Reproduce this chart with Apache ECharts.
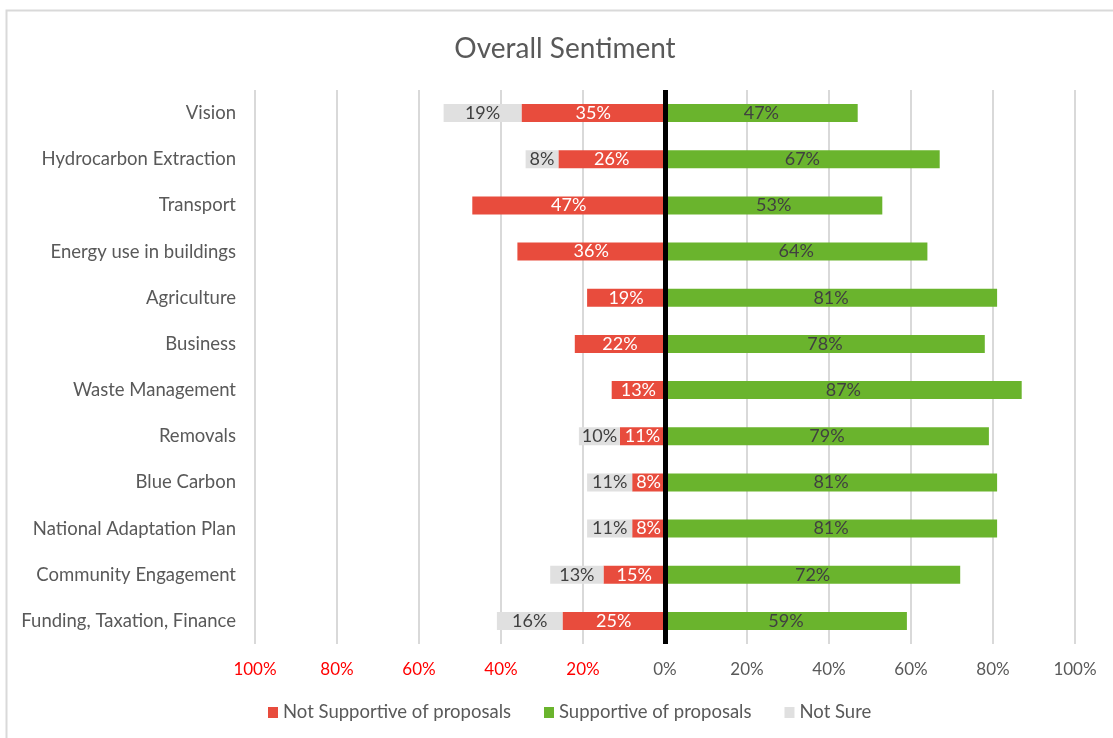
<!DOCTYPE html>
<html>
<head>
<meta charset="utf-8">
<script src="https://cdn.jsdelivr.net/npm/echarts@6/dist/echarts.min.js"></script>
<style>
  html, body { margin: 0; padding: 0; background: #fff; }
  #chart { width: 1113px; height: 738px; }
</style>
</head>
<body>
<div id="chart"></div>
<script>
// Survey topics, top to bottom
const categories = [
  'Vision', 'Hydrocarbon Extraction', 'Transport', 'Energy use in buildings',
  'Agriculture', 'Business', 'Waste Management', 'Removals', 'Blue Carbon',
  'National Adaptation Plan', 'Community Engagement', 'Funding, Taxation, Finance'
];
// Share of responses (%) per topic
const notSupportive = [35, 26, 47, 36, 19, 22, 13, 11, 8, 8, 15, 25];
const supportive    = [47, 67, 53, 64, 81, 78, 87, 79, 81, 81, 72, 59];
const notSure       = [19, 8, null, null, null, null, null, 10, 11, 11, 13, 16];
// Axis tick values (%)
const tickValues = [-100, -80, -60, -40, -20, 0, 20, 40, 60, 80, 100];

const FONT = 'Lato, "Open Sans", sans-serif';
const RED = '#E84C3D', GREEN = '#6AB42D', GREY = '#E0E0E0';

const pctLabel = (color) => ({
  show: true,
  position: 'inside',
  color: color,
  fontFamily: FONT,
  fontSize: 18,
  formatter: (p) => p.value == null ? '' : Math.abs(p.value) + '%'
});

const chart = echarts.init(document.getElementById('chart'), null, { renderer: 'canvas' });
chart.setOption({
  animation: false,
  backgroundColor: '#fff',
  graphic: [{
    type: 'rect',
    shape: { x: 6.5, y: 10.5, width: 1200, height: 800 },
    style: { fill: 'none', stroke: '#d9d9d9', lineWidth: 2 },
    silent: true, z: -1
  }],
  title: {
    text: 'Overall Sentiment',
    left: 560, top: 30, textAlign: 'center',
    textStyle: { color: '#595959', fontFamily: FONT, fontSize: 28, fontWeight: 'normal' }
  },
  legend: {
    bottom: 11,
    left: 263,
    itemWidth: 10, itemHeight: 11, itemGap: 33,
    icon: 'rect',
    textStyle: { color: '#595959', fontFamily: FONT, fontSize: 18.5 },
    data: ['Not Supportive of proposals', 'Supportive of proposals', 'Not Sure']
  },
  grid: { left: 255, right: 38, top: 90, bottom: 94, containLabel: false },
  xAxis: {
    type: 'value',
    min: -100, max: 100, interval: 20,
    axisLine: { show: false },
    axisTick: { show: false },
    splitLine: { show: true, lineStyle: { color: '#d9d9d9', width: 2 } },
    axisLabel: {
      margin: 17,
      fontFamily: FONT, fontSize: 17,
      formatter: (v) => Math.abs(v) + '%',
      color: (v) => (v < 0 ? '#ff0000' : '#595959')
    }
  },
  yAxis: {
    type: 'category',
    data: categories,
    inverse: true,
    axisLine: { show: false },
    axisTick: { show: false },
    splitLine: { show: false },
    axisLabel: { margin: 19, color: '#595959', fontFamily: FONT, fontSize: 18.5 }
  },
  series: [
    {
      name: 'Not Supportive of proposals',
      type: 'bar', stack: 'total', barWidth: 18,
      itemStyle: { color: RED },
      label: pctLabel('#ffffff'),
      data: notSupportive.map(v => -v)
    },
    {
      name: 'Supportive of proposals',
      type: 'bar', stack: 'total', barWidth: 18,
      itemStyle: { color: GREEN },
      label: pctLabel('#404040'),
      data: supportive,
      markLine: {
        silent: true, symbol: 'none',
        label: { show: false },
        lineStyle: { color: '#000', width: 5, type: 'solid' },
        data: [{ xAxis: 0 }],
        z: 10
      }
    },
    {
      name: 'Not Sure',
      type: 'bar', stack: 'total', barWidth: 18,
      itemStyle: { color: GREY },
      label: pctLabel('#404040'),
      data: notSure.map(v => v == null ? null : -v)
    }
  ]
});
</script>
</body>
</html>
